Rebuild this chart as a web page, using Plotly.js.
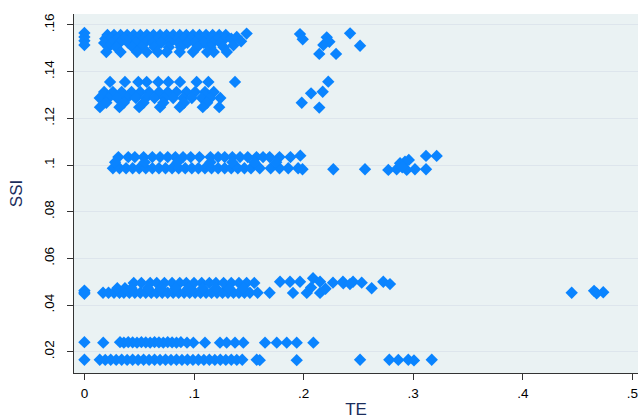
<!DOCTYPE html>
<html>
<head>
<meta charset="utf-8">
<script src="https://cdn.plot.ly/plotly-3.0.1.min.js"></script>
<style>html,body{margin:0;padding:0;background:#fff;}#chart{width:639px;height:419px;}</style>
</head>
<body>
<div id="chart"></div>
<script>
// ---- data ----
// top band (SSI ~ .147 - .157)
const teTop = [0,0,0,0,
  0.021,0.027,0.033,0.039,0.045,0.051,0.057,0.063,0.069,0.075,0.081,0.087,0.093,0.099,0.105,0.111,0.117,0.123,0.129,
  0.019,0.024,0.030,0.036,0.042,0.048,0.054,0.060,0.067,0.073,0.079,0.085,0.091,0.097,0.104,0.110,0.116,0.122,0.128,0.134,
  0.018,0.025,0.032,0.040,0.047,0.055,0.062,0.070,0.078,0.086,0.094,0.101,0.109,0.117,0.124,
  0.022,0.029,0.044,0.052,0.064,0.077,0.088,0.103,0.115,0.127,
  0.020,0.033,0.048,0.057,0.067,0.075,0.087,0.099,0.112,0.118,0.130,
  0.136,0.139,0.143,0.148,
  0.1967,0.1992,0.2211,0.2235,0.2180,0.2143,0.2296,0.2424,0.2515];
const ssiTop = [0.1566,0.1549,0.1532,0.1514,
  0.1557,0.1557,0.1557,0.1557,0.1557,0.1557,0.1557,0.1557,0.1557,0.1557,0.1557,0.1557,0.1557,0.1557,0.1557,0.1557,0.1557,0.1557,0.1557,
  0.1541,0.1541,0.1541,0.1541,0.1541,0.1541,0.1541,0.1541,0.1541,0.1541,0.1541,0.1541,0.1541,0.1541,0.1541,0.1541,0.1541,0.1541,0.1541,0.1541,
  0.1523,0.1523,0.1523,0.1523,0.1523,0.1523,0.1523,0.1523,0.1523,0.1523,0.1523,0.1523,0.1523,0.1523,0.1523,
  0.1505,0.1505,0.1505,0.1505,0.1505,0.1505,0.1505,0.1505,0.1505,0.1505,
  0.1484,0.1484,0.1484,0.1484,0.1484,0.1484,0.1484,0.1484,0.1484,0.1484,0.1484,
  0.1513,0.1549,0.1530,0.1563,
  0.1561,0.1539,0.1547,0.1528,0.1514,0.1476,0.1476,0.1564,0.1511];

// second band (SSI ~ .125 - .136)
const teMid = [0.0234,0.0370,0.0492,0.0568,0.0674,0.0766,0.0872,0.1024,0.1131,0.1374,
  0.018,0.026,0.034,0.043,0.051,0.059,0.068,0.076,0.084,0.093,0.101,0.110,0.118,
  0.014,0.022,0.030,0.039,0.047,0.056,0.064,0.073,0.081,0.090,0.098,0.107,0.115,0.124,
  0.020,0.036,0.054,0.072,0.091,0.112,
  0.0142,0.032,0.050,0.069,0.087,0.108,0.123,
  0.2225,0.2068,0.2174,0.1983,0.2143];
const ssiMid = [0.1356,0.1356,0.1356,0.1356,0.1356,0.1356,0.1356,0.1356,0.1356,0.1356,
  0.1313,0.1313,0.1313,0.1313,0.1313,0.1313,0.1313,0.1313,0.1313,0.1313,0.1313,0.1313,0.1313,
  0.1287,0.1287,0.1287,0.1287,0.1287,0.1287,0.1287,0.1287,0.1287,0.1287,0.1287,0.1287,0.1287,0.1287,
  0.1267,0.1267,0.1267,0.1267,0.1267,0.1267,
  0.1248,0.1248,0.1248,0.1248,0.1248,0.1248,0.1248,
  0.1357,0.1307,0.1314,0.1267,0.1246];

// band around SSI .1
const teTen = [0.031,0.040,0.046,0.054,0.062,0.069,0.076,0.083,0.090,0.097,0.105,0.115,0.122,0.128,0.135,0.142,0.149,0.157,0.163,0.169,0.178,0.188,0.197,
  0.026,0.032,0.038,0.044,0.050,0.056,0.062,0.068,0.074,0.080,0.086,0.092,0.098,0.104,0.110,0.116,0.122,0.128,0.134,0.140,0.146,0.152,0.160,0.170,0.178,0.186,0.195,0.199,
  0.028,0.055,0.085,0.115,0.135,0.155,0.175,
  0.2271,0.2560,0.2773,0.2849,0.2925,0.2941,0.3016,0.3117,0.3117,0.3214,0.288,0.296,0.290];
const ssiTen = [0.1034,0.1034,0.1034,0.1034,0.1034,0.1034,0.1034,0.1034,0.1034,0.1034,0.1034,0.1034,0.1034,0.1034,0.1034,0.1034,0.1034,0.1034,0.1034,0.1034,0.1034,0.1034,0.1040,
  0.0986,0.0986,0.0986,0.0986,0.0986,0.0986,0.0986,0.0986,0.0986,0.0986,0.0986,0.0986,0.0986,0.0986,0.0986,0.0986,0.0986,0.0986,0.0986,0.0986,0.0986,0.0986,0.0986,0.0986,0.0986,0.0986,0.0986,0.0982,
  0.1012,0.1012,0.1012,0.1012,0.1012,0.1012,0.1012,
  0.0982,0.0982,0.0979,0.0982,0.1014,0.0979,0.0982,0.0982,0.1039,0.1039,0.1008,0.1022,0.0990];

// band around SSI .046
const teFour = [0,0,0,
  0.017,0.022,0.027,0.032,0.036,0.041,0.046,0.051,0.056,0.061,0.066,0.071,0.076,0.081,0.086,0.091,0.096,0.101,0.106,0.111,0.116,0.121,0.126,0.131,0.136,0.141,0.146,0.151,0.158,0.169,
  0.045,0.052,0.060,0.066,0.073,0.080,0.087,0.093,0.100,0.107,0.114,0.120,0.127,0.134,0.141,0.148,0.155,
  0.030,0.037,0.043,0.058,0.070,0.083,0.095,0.108,0.120,0.132,0.145,
  0.1785,0.1876,0.1967,0.2086,0.2150,0.2268,0.2359,0.2451,
  0.1903,0.2029,0.2150,0.2068,0.2200,
  0.2362,0.2423,0.2530,0.2621,0.2727,0.2788,
  0.4446,0.4650,0.4674,0.4734];
const ssiFour = [0.0455,0.0462,0.0448,
  0.0453,0.0453,0.0453,0.0453,0.0453,0.0453,0.0453,0.0453,0.0453,0.0453,0.0453,0.0453,0.0453,0.0453,0.0453,0.0453,0.0453,0.0453,0.0453,0.0453,0.0453,0.0453,0.0453,0.0453,0.0453,0.0453,0.0453,0.0453,0.0453,0.0453,
  0.0495,0.0495,0.0495,0.0495,0.0495,0.0495,0.0495,0.0495,0.0495,0.0495,0.0495,0.0495,0.0495,0.0495,0.0495,0.0495,0.0495,
  0.0472,0.0472,0.0472,0.0472,0.0472,0.0472,0.0472,0.0472,0.0472,0.0472,0.0472,
  0.0500,0.0500,0.0500,0.0515,0.0500,0.0496,0.0500,0.0500,
  0.0452,0.0452,0.0452,0.0475,0.0470,
  0.0493,0.0490,0.0496,0.0472,0.0500,0.0490,
  0.0453,0.0461,0.0450,0.0455];

// band around SSI .024
const teTwoFour = [0,0.0172,0.0325,0.036,0.040,0.044,0.048,0.052,0.056,0.060,0.064,0.068,0.072,0.076,0.080,0.084,0.088,0.0936,
  0.0994,0.110,0.1237,0.1298,0.1374,0.145,0.1648,0.1755,0.1846,0.1937,0.2089];
const ssiTwoFour = [0.0241,0.0239,0.0241,0.0239,0.0241,0.0240,0.0239,0.0241,0.0240,0.0239,0.0241,0.0240,0.0239,0.0241,0.0240,0.0239,0.0241,0.0239,
  0.0239,0.0239,0.0239,0.0239,0.0239,0.0239,0.0239,0.0239,0.0239,0.0239,0.0239];

// band around SSI .017
const teOneSeven = [0,0.014,0.019,0.024,0.029,0.034,0.039,0.044,0.049,0.054,0.059,0.064,0.069,0.074,0.079,0.084,0.089,0.094,0.099,0.104,0.109,0.114,0.119,0.124,0.129,0.134,0.139,0.144,
  0.1572,0.1600,0.1937,0.2515,0.2782,0.2864,0.2955,0.3007,0.3169];
const ssiOneSeven = [0.0166,0.0166,0.0165,0.0166,0.0165,0.0166,0.0165,0.0166,0.0165,0.0166,0.0165,0.0166,0.0165,0.0166,0.0165,0.0166,0.0165,0.0166,0.0165,0.0166,0.0165,0.0166,0.0165,0.0166,0.0165,0.0166,0.0165,0.0166,
  0.0166,0.0164,0.0164,0.0166,0.0166,0.0165,0.0166,0.0163,0.0166];

const yTickVals = [0.02,0.04,0.06,0.08,0.1,0.12,0.14,0.16];
const yTickText = ['.02','.04','.06','.08','.1','.12','.14','.16'];
const xTickVals = [0,0.1,0.2,0.3,0.4,0.5];
const xTickText = ['0','.1','.2','.3','.4','.5'];

const te = [].concat(teTop, teMid, teTen, teFour, teTwoFour, teOneSeven);
const ssi = [].concat(ssiTop, ssiMid, ssiTen, ssiFour, ssiTwoFour, ssiOneSeven);

const trace = {
  x: te, y: ssi, type: 'scatter', mode: 'markers',
  marker: {symbol: 'diamond', size: 9.5, color: '#0a84ff', line: {width: 0}},
  hoverinfo: 'x+y'
};

const axisCommon = {
  showline: true, linecolor: '#333', linewidth: 1,
  ticks: 'outside', ticklen: 6, tickcolor: '#333', tickwidth: 1,
  tickfont: {family: 'Liberation Sans, Arial, sans-serif', size: 13.5, color: '#000'},
  zeroline: false, mirror: false
};

const layout = {
  width: 639, height: 419,
  margin: {l: 74, r: 1, t: 14, b: 46, pad: 0},
  paper_bgcolor: '#ffffff', plot_bgcolor: '#eaf2f3',
  showlegend: false,
  font: {family: 'Liberation Sans, Arial, sans-serif'},
  xaxis: Object.assign({}, axisCommon, {
    range: [-0.0095, 0.5051], tickvals: xTickVals, ticktext: xTickText,
    showgrid: false, ticklabelstandoff: 2,
    title: {text: 'TE', font: {size: 17, color: '#1c2e5c'}, standoff: 4}
  }),
  yaxis: Object.assign({}, axisCommon, {
    range: [0.0109, 0.1647], tickvals: yTickVals, ticktext: yTickText,
    showgrid: true, gridcolor: '#dde5ec', gridwidth: 1, tickangle: -90,
    ticklabelstandoff: 8,
    title: {text: 'SSI', font: {size: 17, color: '#1c2e5c'}, standoff: 14}
  })
};

Plotly.newPlot('chart', [trace], layout, {displayModeBar: false, staticPlot: true});
</script>
</body>
</html>
